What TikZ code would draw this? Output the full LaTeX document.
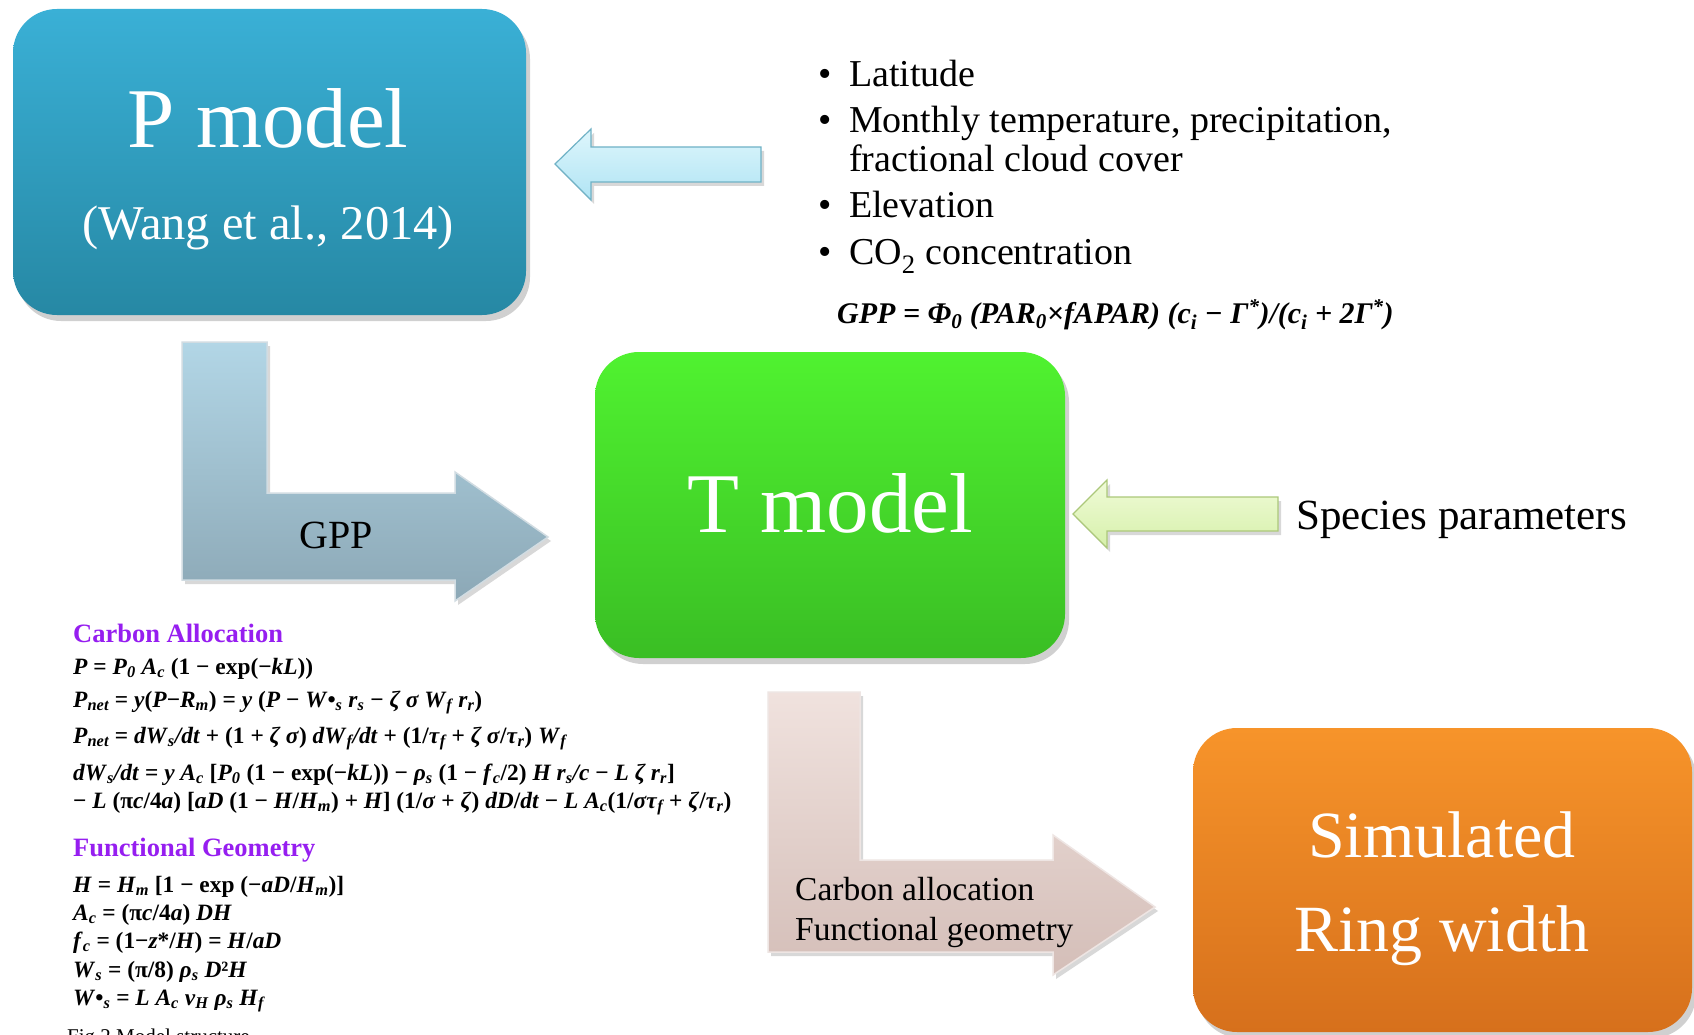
\documentclass[tikz,border=0pt]{standalone}
\usepackage{fontspec}
\setmainfont{Liberation Serif}
\usetikzlibrary{shadows}
\definecolor{pmTop}{RGB}{58,176,214}
\definecolor{pmBot}{RGB}{38,136,164}
\definecolor{tmTop}{RGB}{80,242,48}
\definecolor{tmBot}{RGB}{58,190,36}
\definecolor{srTop}{RGB}{247,148,42}
\definecolor{srBot}{RGB}{214,112,28}
\definecolor{cyTop}{RGB}{222,246,252}
\definecolor{cyBot}{RGB}{176,228,244}
\definecolor{cyEdge}{RGB}{112,178,198}
\definecolor{grTop}{RGB}{240,251,216}
\definecolor{grBot}{RGB}{214,240,170}
\definecolor{grEdge}{RGB}{172,200,122}
\definecolor{gpTop}{RGB}{178,214,230}
\definecolor{gpBot}{RGB}{140,168,182}
\definecolor{caTop}{RGB}{240,226,222}
\definecolor{caBot}{RGB}{212,190,184}
\definecolor{violet}{RGB}{150,30,240}
\newcommand\fsz[1]{\fontsize{#1}{#1}\selectfont}
\newcommand\vi[1]{\textit{#1}}
\newcommand\lo[1]{\textsubscript{\itshape #1}}
\tikzset{
  modelbox/.style={rounded corners=44pt, inner sep=0pt, draw=none,
     drop shadow={shadow xshift=4pt, shadow yshift=-6pt, opacity=0.3, fill=black!60}},
  boxtext/.style={inner sep=0pt, anchor=base, text=white},
  plain/.style={inner sep=0pt, anchor=base west, text=black},
  eqn/.style={inner sep=0pt, anchor=base west, text=black, font=\fsz{23.4}\bfseries},
  head/.style={inner sep=0pt, anchor=base west, text=violet, font=\fsz{26.5}\bfseries},
  larrow/.style={drop shadow={shadow xshift=3pt, shadow yshift=-4pt, opacity=0.25, fill=black!60}, line join=miter},
}
\begin{document}
\begin{tikzpicture}[x=1pt,y=-1pt]
\useasboundingbox (0,0) rectangle (1694,1035);
\clip (0,0) rectangle (1694,1035);
\fill[white] (0,0) rectangle (1694,1035);

% model boxes
\node[modelbox, top color=pmTop, bottom color=pmBot, minimum width=513pt, minimum height=306pt] (pbox) at (269.5,162) {};
\node[modelbox, top color=tmTop, bottom color=tmBot, minimum width=470pt, minimum height=306pt] (tbox) at (830,505) {};
\node[modelbox, top color=srTop, bottom color=srBot, minimum width=499pt, minimum height=304pt] (sbox) at (1442.5,880) {};

\node[boxtext, font=\fsz{85}] (ptitle) at (268,148) {P model};
\node[boxtext, font=\fsz{48.5}] (pref) at (268,240) {(Wang et al., 2014)};
\node[boxtext, font=\fsz{85}] (ttitle) at (830,532) {T model};
\node[boxtext, font=\fsz{66}] (stitle1) at (1442,857) {Simulated};
\node[boxtext, font=\fsz{66}] (stitle2) at (1442,951) {Ring width};

% straight input arrows
\path[larrow, top color=cyTop, bottom color=cyBot, draw=cyEdge, line width=1.2pt]
  (555,164) -- (591,129) -- (591,147) -- (761,147) -- (761,182) -- (591,182) -- (591,200) -- cycle;
\path[larrow, top color=grTop, bottom color=grBot, draw=grEdge, line width=1.2pt]
  (1073,514) -- (1107,480) -- (1107,497) -- (1278,497) -- (1278,531) -- (1107,531) -- (1107,548) -- cycle;

% L-shaped arrows
\path[larrow, top color=gpTop, bottom color=gpBot, draw=white!60!gpBot, line width=1.5pt]
  (182,342) -- (267,342) -- (267,493) -- (455,493) -- (455,472) -- (548,537) -- (455,601) -- (455,580) -- (182,580) -- cycle;
\path[larrow, top color=caTop, bottom color=caBot, draw=white!60!caBot, line width=1.5pt]
  (768,692) -- (860,692) -- (860,860) -- (1053,860) -- (1053,835) -- (1155,907) -- (1053,975) -- (1053,952) -- (768,952) -- cycle;
\node[inner sep=0pt, anchor=base, font=\fsz{40}] (gpplabel) at (336,548) {GPP};
\node[plain, font=\fsz{33.5}] (ca1) at (795,900) {Carbon allocation};
\node[plain, font=\fsz{33.5}] (ca2) at (795,940) {Functional geometry};

% input bullets
\begin{scope}[every node/.style={plain, font=\fsz{38}}]
\node (b1) at (818,87) {•};
\node (i1) at (849,87) {Latitude};
\node (b2) at (818,133) {•};
\node (i2) at (849,133) {Monthly temperature, precipitation,};
\node (i2b) at (849,172) {fractional cloud cover};
\node (b3) at (818,218) {•};
\node (i3) at (849,218) {Elevation};
\node (b4) at (818,264) {•};
\node (i4) at (849,264) {CO\textsubscript{2} concentration};
\end{scope}
\node[plain, font=\fsz{30}\bfseries\itshape] (gppeq) at (837,323)
  {GPP = Φ\lo{0} (PAR\lo{0}×fAPAR) (c\lo{i} − Γ\textsuperscript{*})/(c\lo{i} + 2Γ\textsuperscript{*})};

\node[plain, font=\fsz{43}] (species) at (1296,529) {Species parameters};

% equations
\node[head] (cahead) at (73,642) {Carbon Allocation};
\node[eqn] (e1) at (73,674) {\vi{P} = \vi{P}\lo{0} \vi{A}\lo{c} (1 − exp(−\vi{kL}))};
\node[eqn] (e2) at (73,707) {\vi{P}\lo{net} = \vi{y}(\vi{P}−\vi{R}\lo{m}) = \vi{y} (\vi{P} − \vi{W}•\lo{s} \vi{r}\lo{s} − \vi{ζ σ W}\lo{f} \vi{r}\lo{r})};
\node[eqn] (e3) at (73,743) {\vi{P}\lo{net} = \vi{dW}\lo{s}\vi{/dt} + (1 + \vi{ζ σ}) \vi{dW}\lo{f}\vi{/dt} + (1/\vi{τ}\lo{f} + \vi{ζ σ}/\vi{τ}\lo{r}) \vi{W}\lo{f}};
\node[eqn] (e4) at (73,780) {\vi{dW}\lo{s}\vi{/dt} = \vi{y A}\lo{c} [\vi{P}\lo{0} (1 − exp(−\vi{kL})) − \vi{ρ}\lo{s} (1 − \vi{f}\lo{c}/2) \vi{H r}\lo{s}\vi{/c} − \vi{L ζ r}\lo{r}]};
\node[eqn] (e5) at (73,808) {− \vi{L} (π\vi{c}/4\vi{a}) [\vi{aD} (1 − \vi{H}/\vi{H}\lo{m}) + \vi{H}] (1/\vi{σ} + \vi{ζ}) \vi{dD}/\vi{dt} − \vi{L A}\lo{c}(1/\vi{στ}\lo{f} + \vi{ζ}/\vi{τ}\lo{r})};
\node[head] (fghead) at (73,856) {Functional Geometry};
\node[eqn] (g1) at (73,892) {\vi{H} = \vi{H}\lo{m} [1 − exp (−\vi{aD}/\vi{H}\lo{m})]};
\node[eqn] (g2) at (73,920) {\vi{A}\lo{c} = (π\vi{c}/4\vi{a}) \vi{DH}};
\node[eqn] (g3) at (73,948) {\vi{f}\lo{c} = (1−\vi{z}*/\vi{H}) = \vi{H}/\vi{aD}};
\node[eqn] (g4) at (73,977) {\vi{W}\lo{s} = (π/8) \vi{ρ}\lo{s} \vi{D}²\vi{H}};
\node[eqn] (g5) at (73,1005) {\vi{W}•\lo{s} = \vi{L A}\lo{c} \vi{v}\lo{H} \vi{ρ}\lo{s} \vi{H}\lo{f}};
\node[plain, font=\fsz{21}] (caption) at (67,1043) {Fig 2 Model structure};
\end{tikzpicture}
\end{document}
